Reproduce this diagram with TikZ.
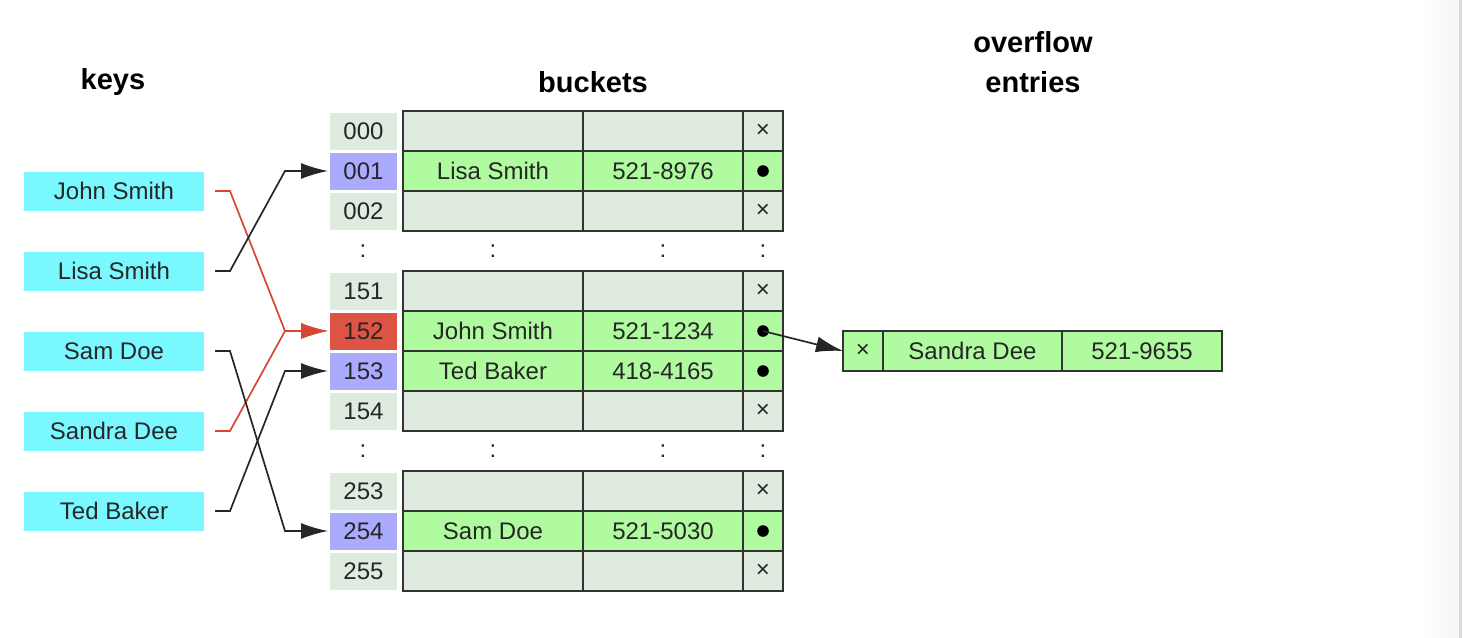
\documentclass[tikz,border=0pt]{standalone}
\usepackage{fontspec}
\setmainfont{Liberation Sans}
\usetikzlibrary{arrows.meta}
\definecolor{keycyan}{RGB}{122,248,255}
\definecolor{cellgray}{RGB}{224,235,224}
\definecolor{cellgreen}{RGB}{176,250,160}
\definecolor{idxblue}{RGB}{170,170,255}
\definecolor{idxred}{RGB}{221,84,68}
\definecolor{linkred}{RGB}{214,72,52}
\definecolor{gutter}{RGB}{246,246,246}
\tikzset{
  label/.style={font=\fontsize{12}{14}\selectfont, text=black!85, inner sep=0pt, outer sep=0pt},
  title/.style={font=\fontsize{14.5}{20}\selectfont\bfseries, align=center, inner sep=0pt},
  keybox/.style={label, fill=keycyan, minimum width=90pt, minimum height=19.5pt},
  idxcell/.style={label, minimum width=33.5pt, minimum height=18.5pt},
  cell/.style={label, draw=black!80, line width=0.9pt, minimum height=20pt},
  link/.style={line width=0.85pt, black!85, -{Latex[length=13.5pt,width=8pt]}},
}
\begin{document}
\begin{tikzpicture}[x=0.5pt,y=-0.5pt]
  \useasboundingbox (0,0) rectangle (1464,638);
  % right page gutter
  \shade[left color=white, right color=gutter] (1420,0) rectangle (1459,638);
  \fill[black!15] (1459,0) rectangle (1462,638);
  % titles
  \node[title] (keys) at (113,82) {keys};
  \node[title] (buckets) at (593,82) {buckets};
  \node[title] (overflow) at (1033,62) {overflow\\entries};
  % keys
  \node[keybox] (john) at (114,191) {John Smith};
  \node[keybox] (lisa) at (114,271) {Lisa Smith};
  \node[keybox] (sam) at (114,351) {Sam Doe};
  \node[keybox] (sandra) at (114,431) {Sandra Dee};
  \node[keybox] (ted) at (114,511) {Ted Baker};
  % buckets
  \foreach \k/\y/\c/\f/\nm/\ph/\pt in {
      000/131/cellgray/cellgray///×,
      001/171/idxblue/cellgreen/Lisa Smith/521-8976/,
      002/211/cellgray/cellgray///×,
      151/291/cellgray/cellgray///×,
      152/331/idxred/cellgreen/John Smith/521-1234/,
      153/371/idxblue/cellgreen/Ted Baker/418-4165/,
      154/411/cellgray/cellgray///×,
      253/491/cellgray/cellgray///×,
      254/531/idxblue/cellgreen/Sam Doe/521-5030/,
      255/571/cellgray/cellgray///×} {
    \node[idxcell, fill=\c] (i\k) at (363.5,\y) {\k};
    \node[cell, fill=\f, minimum width=90pt] (n\k) at (493,\y) {\nm};
    \node[cell, fill=\f, minimum width=80pt] (p\k) at (663,\y) {\ph};
    \node[cell, fill=\f, minimum width=20pt] (x\k) at (763,\y) {\pt};
  }
  \foreach \k in {001,152,153,254}
    \fill[black] (x\k.center) circle (2.9pt);
  % elided rows
  \foreach \r/\y in {a/251,b/451} {
    \node[label] (di\r) at (363,\y) {:};
    \node[label] (dn\r) at (493,\y) {:};
    \node[label] (dp\r) at (663,\y) {:};
    \node[label] (dx\r) at (763,\y) {:};
  }
  % overflow entry
  \node[cell, fill=cellgreen, minimum width=20pt] (ox) at (863,351) {×};
  \node[cell, fill=cellgreen, minimum width=89.5pt] (on) at (972.5,351) {Sandra Dee};
  \node[cell, fill=cellgreen, minimum width=80pt] (op) at (1142,351) {521-9655};
  % hashing
  \begin{scope}[link]
    \draw[linkred] ([xshift=5.5pt]john.east) -- ++(15,0) -- ([xshift=-22.5pt]i152.west) -- ([xshift=-1pt]i152.west);
    \draw[linkred] ([xshift=5.5pt]sandra.east) -- ++(15,0) -- ([xshift=-22.5pt]i152.west) -- ([xshift=-1pt]i152.west);
    \draw ([xshift=5.5pt]lisa.east) -- ++(15,0) -- ([xshift=-22.5pt]i001.west) -- ([xshift=-1pt]i001.west);
    \draw ([xshift=5.5pt]sam.east) -- ++(15,0) -- ([xshift=-22.5pt]i254.west) -- ([xshift=-1pt]i254.west);
    \draw ([xshift=5.5pt]ted.east) -- ++(15,0) -- ([xshift=-22.5pt]i153.west) -- ([xshift=-1pt]i153.west);
    \draw (x152.center) -- (ox.west);
  \end{scope}
\end{tikzpicture}
\end{document}
